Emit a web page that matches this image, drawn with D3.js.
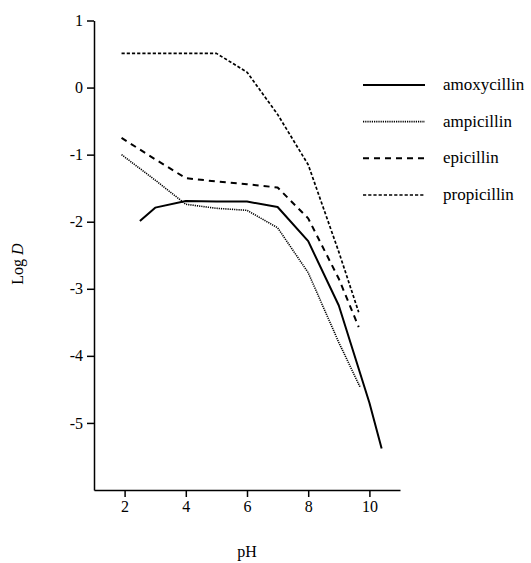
<!DOCTYPE html>
<html>
<head>
<meta charset="utf-8">
<script src="https://cdn.jsdelivr.net/npm/d3@7"></script>
<style>
body { margin: 0; background: #fff; }
</style>
</head>
<body>
<div class="chart"></div>
<script>
// values (pH, log D)
var amoxycillinPH = [2.5, 3, 4, 5, 6, 7, 8, 9, 10, 10.4];
var amoxycillinLogD = [-1.99, -1.79, -1.69, -1.70, -1.70, -1.78, -2.29, -3.25, -4.70, -5.38];

var ampicillinPH = [1.9, 3, 4, 5, 6, 7, 8, 9, 9.7];
var ampicillinLogD = [-1.0, -1.38, -1.74, -1.80, -1.83, -2.09, -2.76, -3.80, -4.47];

var epicillinPH = [1.9, 3, 4, 5, 6, 7, 8, 9, 9.65];
var epicillinLogD = [-0.75, -1.07, -1.35, -1.40, -1.44, -1.49, -1.95, -2.85, -3.57];

var propicillinPH = [1.9, 3, 4, 5, 6, 7, 8, 9, 9.65];
var propicillinLogD = [0.51, 0.51, 0.51, 0.51, 0.23, -0.40, -1.15, -2.45, -3.35];

var seriesNames = ["amoxycillin", "ampicillin", "epicillin", "propicillin"];
var xTicks = [2, 4, 6, 8, 10];
var yTicks = [1, 0, -1, -2, -3, -4, -5];

var options = {
    width: 531,
    height: 563,
    font: "'Liberation Serif', 'Times New Roman', Times, 'DejaVu Serif', serif"
};

var styles = {
    amoxycillin: { width: 2, dash: null },
    ampicillin: { width: 1.6, dash: "1.2,1" },
    epicillin: { width: 2, dash: "6,5" },
    propicillin: { width: 1.7, dash: "3.2,2" }
};

var svg = d3.select(".chart").append("svg")
            .attr("width", options.width)
            .attr("height", options.height);

var xScale = d3.scaleLinear().domain([1, 11]).range([94, 400]);
var yScale = d3.scaleLinear().domain([-6, 1]).range([490, 20.5]);

var xAxis = d3.axisBottom(xScale).tickValues(xTicks).tickSize(7).tickSizeOuter(0).tickPadding(4);
var yAxis = d3.axisLeft(yScale).tickValues(yTicks).tickSize(7).tickSizeOuter(0).tickPadding(4)
              .tickFormat(function(d) { return String(d); }); // plain hyphen like the figure

svg.append("g")
    .attr("class", "x axis")
    .attr("transform", "translate(0," + yScale(-6) + ")")
    .call(xAxis);

svg.append("g")
    .attr("class", "y axis")
    .attr("transform", "translate(" + xScale(1) + ",0)")
    .call(yAxis);

svg.selectAll(".axis").attr("font-family", null);
svg.selectAll(".axis path, .axis line")
    .attr("stroke", "#000")
    .attr("stroke-width", 1.5);
svg.selectAll(".axis text")
    .style("font-family", options.font)
    .style("font-size", "16px")
    .attr("fill", "#000");

// x/y labels
svg.append("text")
    .attr("x", 247)
    .attr("y", 557)
    .attr("text-anchor", "middle")
    .style("font-family", options.font)
    .style("font-size", "16px")
    .text("pH");

var ylab = svg.append("text")
    .attr("transform", "translate(23,264) rotate(-90)")
    .attr("text-anchor", "middle")
    .style("font-family", options.font)
    .style("font-size", "16px");
ylab.append("tspan").text("Log ");
ylab.append("tspan").style("font-style", "italic").text("D");

function makeData(xs, ys) {
    return xs.map(function(x, i) { return { ph: x, logd: ys[i] }; });
}

var series = {
    amoxycillin: makeData(amoxycillinPH, amoxycillinLogD),
    ampicillin: makeData(ampicillinPH, ampicillinLogD),
    epicillin: makeData(epicillinPH, epicillinLogD),
    propicillin: makeData(propicillinPH, propicillinLogD)
};

var line = d3.line()
    .x(function(d) { return xScale(d.ph); })
    .y(function(d) { return yScale(d.logd); });

seriesNames.forEach(function(name) {
    svg.append("path")
        .datum(series[name])
        .attr("fill", "none")
        .attr("stroke", "#000")
        .attr("stroke-width", styles[name].width)
        .attr("stroke-dasharray", styles[name].dash)
        .attr("stroke-linejoin", "round")
        .attr("d", line);
});

// legend
var legend = svg.append("g").attr("class", "legend");
var legendY = d3.scalePoint().domain(seriesNames).range([85, 195]);

seriesNames.forEach(function(name) {
    var y = legendY(name);
    legend.append("line")
        .attr("x1", 363).attr("x2", 425)
        .attr("y1", y).attr("y2", y)
        .attr("stroke", "#000")
        .attr("stroke-width", styles[name].width)
        .attr("stroke-dasharray", styles[name].dash);
    legend.append("text")
        .attr("x", 443)
        .attr("y", y + 5)
        .style("font-family", options.font)
        .style("font-size", "17px")
        .text(name);
});
</script>
</body>
</html>
